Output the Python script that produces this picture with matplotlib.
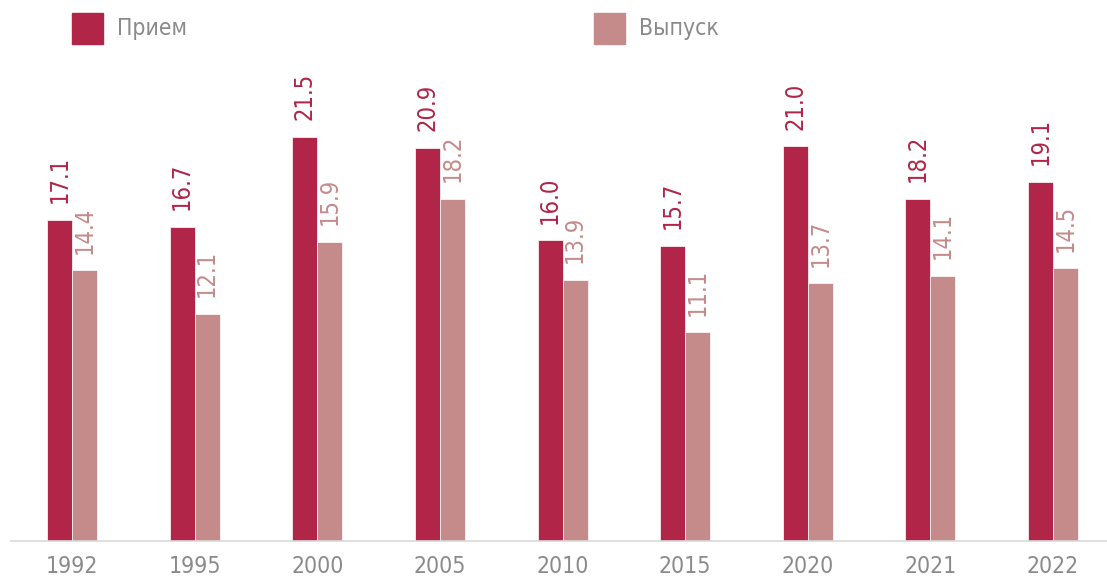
import numpy as np
import matplotlib.pyplot as plt
from matplotlib.patches import Rectangle

plt.rcParams['font.family'] = ['DejaVu Sans']
plt.rcParams['font.stretch'] = 'condensed'
plt.rcParams['font.weight'] = 'light'

# Данные
годы = ["1992", "1995", "2000", "2005", "2010", "2015", "2020", "2021", "2022"]
прием = [17.1, 16.7, 21.5, 20.9, 16.0, 15.7, 21.0, 18.2, 19.1]
выпуск = [14.4, 12.1, 15.9, 18.2, 13.9, 11.1, 13.7, 14.1, 14.5]

цвет_прием = "#B02548"
цвет_выпуск = "#C48B8A"
цвет_текста = "#8A8A8A"

fig = plt.figure(figsize=(11.07, 5.77), dpi=100)
ax = fig.add_axes([11 / 1107, 36 / 577, 1 - 11 / 1107, 1 - 36 / 577])

x = np.arange(len(годы))
w = 0.204
ax.bar(x - w / 2, прием, width=w, color=цвет_прием, edgecolor="white", linewidth=0.5)
ax.bar(x + w / 2, выпуск, width=w, color=цвет_выпуск, edgecolor="white", linewidth=0.5)

# подписи значений, повернутые вертикально
for i in range(len(годы)):
    ax.annotate(f"{прием[i]:.1f}", (x[i] - w / 2, прием[i]), xytext=(0, 12),
                textcoords="offset points", rotation=90, ha="center", va="bottom",
                fontsize=17, color=цвет_прием)
    ax.annotate(f"{выпуск[i]:.1f}", (x[i] + w / 2, выпуск[i]), xytext=(0, 12),
                textcoords="offset points", rotation=90, ha="center", va="bottom",
                fontsize=17, color=цвет_выпуск)

ax.set_xlim(-0.4975, 8.44)
ax.set_ylim(0, 541 / 18.8)
ax.set_xticks(x)
ax.set_xticklabels(годы, fontsize=16.5, color=цвет_текста)
ax.tick_params(axis="x", length=0, pad=10)
ax.set_yticks([])
for s in ["top", "right", "left"]:
    ax.spines[s].set_visible(False)
ax.spines["bottom"].set_color("#D9D9D9")
ax.spines["bottom"].set_linewidth(1.2)

# легенда вверху
for x0, цвет, текст in [(72, цвет_прием, "Прием"), (594, цвет_выпуск, "Выпуск")]:
    fig.patches.append(Rectangle((x0 / 1107, 1 - 44 / 577), 31 / 1107, 31 / 577,
                                 transform=fig.transFigure, color=цвет, figure=fig))
    fig.text((x0 + 45) / 1107, 1 - 28 / 577, текст, fontsize=16.5,
             color=цвет_текста, va="center", ha="left")

fig.savefig("out.png", dpi=100)
